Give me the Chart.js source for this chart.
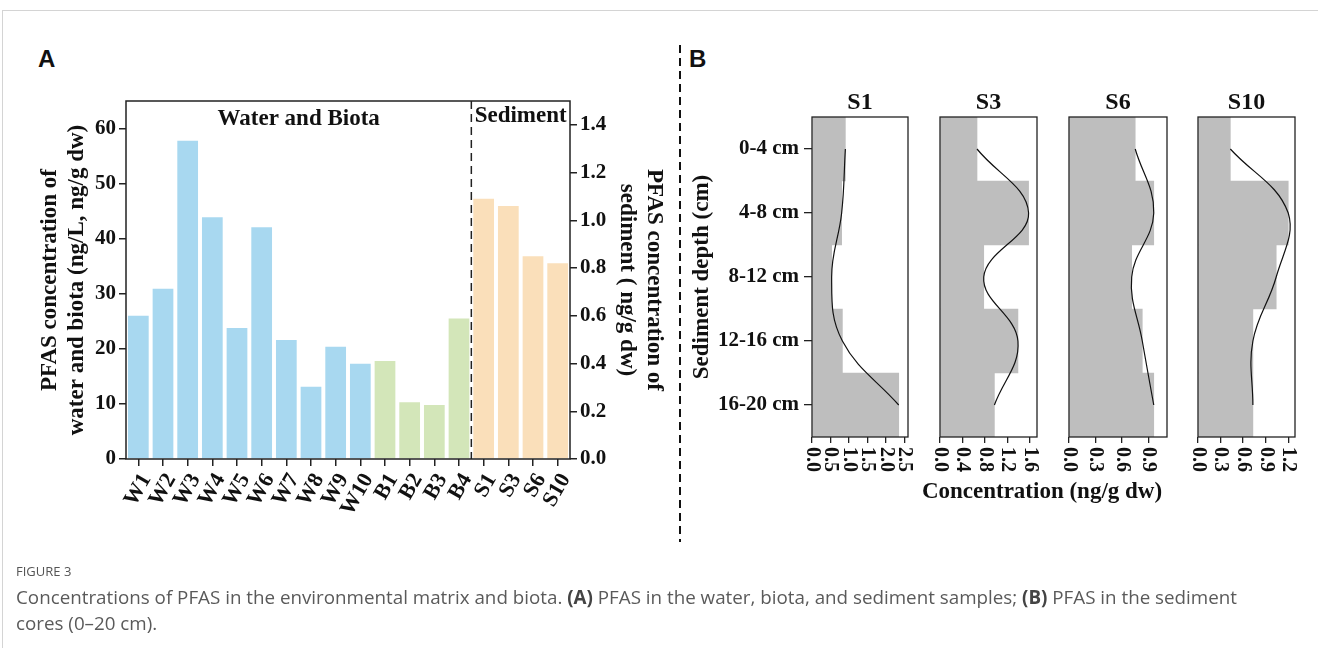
<!DOCTYPE html>
<html>
<head>
<meta charset="utf-8">
<script src="https://cdn.jsdelivr.net/npm/chart.js@4/dist/chart.umd.min.js"></script>
<style>
  html, body { margin: 0; padding: 0; background: #fff; }
  body { width: 1318px; height: 648px; position: relative; overflow: hidden; }
  canvas { position: absolute; left: 0; top: 0; }
  .frame-box { position: absolute; left: 2px; top: 10px; width: 1316px; height: 640px;
    border-top: 1px solid #d4d4d4; border-left: 1px solid #d4d4d4; }
  .panel { position: absolute; font: bold 24px "Liberation Sans", Arial, sans-serif; line-height: 24px; color: #111; }
  .xtitle { position: absolute; left: 842px; width: 400px; top: 479px; text-align: center;
    font: bold 23px "Liberation Serif", "Times New Roman", serif; line-height: 23px; color: #111; }
  .fig { position: absolute; left: 16px; top: 563px; font: 13px "Open Sans", sans-serif; line-height: 16px; color: #555; }
  .caption { position: absolute; left: 16px; top: 584px; width: 1250px; font: 18.8px "Open Sans", sans-serif;
    line-height: 26px; color: #5a5a5a; }
  .caption b { color: #444; }
</style>
</head>
<body>
<div class="frame-box"></div>
<svg width="1318" height="648" style="position:absolute;left:0;top:0">
  <line x1="680" y1="45" x2="680" y2="542" stroke="#111" stroke-width="2" stroke-dasharray="8 5"/>
</svg>
<div class="panel" style="left:38px;top:47px">A</div>
<div class="panel" style="left:689px;top:47px">B</div>
<canvas id="chartA" width="1318" height="648"></canvas>
<canvas id="coreS1" width="1318" height="648"></canvas>
<canvas id="coreS3" width="1318" height="648"></canvas>
<canvas id="coreS6" width="1318" height="648"></canvas>
<canvas id="coreS10" width="1318" height="648"></canvas>
<div class="xtitle">Concentration (ng/g dw)</div>
<div class="fig">FIGURE 3</div>
<div class="caption">Concentrations of PFAS in the environmental matrix and biota. <b>(A)</b> PFAS in the water, biota, and sediment samples; <b>(B)</b> PFAS in the sediment cores (0–20 cm).</div>

<script>
// panel A data
const sampleLabels = ["W1", "W2", "W3", "W4", "W5", "W6", "W7", "W8", "W9", "W10", "B1", "B2", "B3", "B4", "S1", "S3", "S6", "S10"];
const waterBiotaValues = [26.0, 30.9, 57.8, 43.9, 23.8, 42.1, 21.6, 13.1, 20.4, 17.3, 17.8, 10.3, 9.8, 25.5, null, null, null, null];
const sedimentValues = [null, null, null, null, null, null, null, null, null, null, null, null, null, null, 1.09, 1.06, 0.85, 0.82];
const groupNames = ["Water and Biota", "Sediment"];

// panel B data (sediment cores)
const depthLabels = ["0-4 cm", "4-8 cm", "8-12 cm", "12-16 cm", "16-20 cm"];
const coreS1 = [0.90, 0.80, 0.53, 0.82, 2.34];
const coreS3 = [0.66, 1.58, 0.78, 1.39, 0.97];
const coreS6 = [0.75, 0.96, 0.71, 0.83, 0.96];
const coreS10 = [0.43, 1.20, 1.04, 0.73, 0.73];

const serif = '"Liberation Serif", "Times New Roman", serif';
const ink = "#111";
const lineInk = "#222";

const colorFor = (label) => {
	if (label[0] === "W") return "#A8D8F0";
	if (label[0] === "B") return "#D3E6B9";
	return "#FADFBA";
};

const framePlugin = {
	id: "frame",
	afterDatasetsDraw(chart, args, opts) {
		const { ctx, chartArea: a } = chart;
		ctx.save();
		ctx.strokeStyle = lineInk;
		ctx.lineWidth = opts.lineWidth || 1.5;
		ctx.strokeRect(a.left, a.top, a.right - a.left, a.bottom - a.top);
		ctx.restore();
	},
};

const groupPlugin = {
	id: "groups",
	afterDatasetsDraw(chart) {
		const { ctx, chartArea: a, scales } = chart;
		const x = scales.x;
		const firstSed = sedimentValues.findIndex((v) => v !== null);
		const splitX = (x.getPixelForValue(firstSed - 1) + x.getPixelForValue(firstSed)) / 2;
		ctx.save();
		ctx.strokeStyle = lineInk;
		ctx.lineWidth = 1.5;
		ctx.setLineDash([8, 5]);
		ctx.beginPath();
		ctx.moveTo(splitX, a.top);
		ctx.lineTo(splitX, a.bottom);
		ctx.stroke();
		ctx.setLineDash([]);
		ctx.fillStyle = ink;
		ctx.font = "bold 23px " + serif;
		ctx.textAlign = "center";
		ctx.fillText(groupNames[0], (a.left + splitX) / 2, a.top + 24);
		ctx.fillText(groupNames[1], (splitX + a.right) / 2, a.top + 21);
		ctx.restore();
	},
};

// tick labels of the core panels read top-to-bottom
const verticalTicksPlugin = {
	id: "verticalTicks",
	afterDraw(chart) {
		const { ctx } = chart;
		const x = chart.scales.x;
		ctx.save();
		ctx.font = "bold 20px " + serif;
		ctx.fillStyle = ink;
		ctx.textAlign = "left";
		ctx.textBaseline = "middle";
		x.ticks.forEach((t) => {
			ctx.save();
			ctx.translate(x.getPixelForValue(t.value), x.top + 10);
			ctx.rotate(Math.PI / 2);
			ctx.fillText(t.value.toFixed(1), 0, 0);
			ctx.restore();
		});
		ctx.restore();
	},
};

const coreTitlePlugin = {
	id: "coreTitle",
	afterDraw(chart, args, opts) {
		const { ctx, chartArea: a } = chart;
		ctx.save();
		ctx.font = "bold 24px " + serif;
		ctx.fillStyle = ink;
		ctx.textAlign = "center";
		ctx.fillText(opts.text, (a.left + a.right) / 2, a.top - 8);
		ctx.restore();
	},
};

new Chart(document.getElementById("chartA"), {
	type: "bar",
	data: {
		labels: sampleLabels,
		datasets: [
			{
				data: waterBiotaValues,
				backgroundColor: sampleLabels.map(colorFor),
				yAxisID: "y",
				grouped: false,
				barPercentage: 0.84,
				categoryPercentage: 1,
			},
			{
				data: sedimentValues,
				backgroundColor: sampleLabels.map(colorFor),
				yAxisID: "y1",
				grouped: false,
				barPercentage: 0.84,
				categoryPercentage: 1,
			},
		],
	},
	options: {
		responsive: false,
		animation: false,
		layout: { padding: { left: 30, top: 101, right: 646, bottom: 109 } },
		plugins: {
			legend: { display: false },
			tooltip: { enabled: false },
			frame: { lineWidth: 1.5 },
		},
		scales: {
			x: {
				grid: { drawOnChartArea: false, offset: false, tickLength: 7, color: lineInk, lineWidth: 1.5 },
				border: { display: false },
				ticks: {
					color: ink,
					font: { family: serif, size: 22, weight: "bold" },
					minRotation: 60,
					maxRotation: 60,
					padding: 3,
					labelOffset: 8,
					autoSkip: false,
				},
				afterFit: (s) => {
					s.height = 80;
				},
			},
			y: {
				position: "left",
				min: 0,
				max: 65,
				grid: { drawOnChartArea: false, tickLength: 7, color: lineInk, lineWidth: 1.5 },
				border: { display: false },
				ticks: {
					stepSize: 10,
					includeBounds: false,
					color: ink,
					padding: 3,
					font: { family: serif, size: 21, weight: "bold" },
				},
				title: {
					display: true,
					text: ["PFAS concentration of", "water and biota (ng/L, ng/g dw)"],
					color: ink,
					font: { family: serif, size: 23, weight: "bold", lineHeight: 1.2 },
					padding: { top: 6, bottom: 0 },
				},
				afterFit: (s) => {
					s.width = 96;
				},
			},
			y1: {
				position: "right",
				min: 0,
				max: 1.5,
				grid: { drawOnChartArea: false, tickLength: 7, color: lineInk, lineWidth: 1.5 },
				border: { display: false },
				ticks: {
					stepSize: 0.2,
					includeBounds: false,
					color: ink,
					padding: 3,
					font: { family: serif, size: 21, weight: "bold" },
					callback: (v) => v.toFixed(1),
				},
				title: {
					display: true,
					text: ["PFAS concentration of", "sediment ( ng/g dw)"],
					color: ink,
					font: { family: serif, size: 23, weight: "bold", lineHeight: 1.2 },
					padding: { top: 4, bottom: 0 },
				},
				afterFit: (s) => {
					s.width = 102;
				},
			},
		},
	},
	plugins: [framePlugin, groupPlugin],
});

const coreTop = 117;
const coreBottom = 437;
const depthAxisLeft = 688;

function drawCore(id, name, values, xMax, xStep, left, right, withDepthAxis) {
	new Chart(document.getElementById(id), {
		type: "bar",
		data: {
			labels: depthLabels,
			datasets: [
				{
					type: "line",
					data: values,
					borderColor: ink,
					borderWidth: 1.2,
					pointRadius: 0,
					tension: 0.4,
					fill: false,
					order: 0,
				},
				{
					data: values,
					backgroundColor: "#BEBEBE",
					barPercentage: 1,
					categoryPercentage: 1,
					order: 1,
				},
			],
		},
		options: {
			indexAxis: "y",
			responsive: false,
			animation: false,
			layout: {
				padding: {
					left: withDepthAxis ? depthAxisLeft : left,
					right: 1318 - right,
					top: coreTop,
					bottom: 648 - coreBottom - 40,
				},
			},
			plugins: {
				legend: { display: false },
				tooltip: { enabled: false },
				frame: { lineWidth: 1.3 },
				coreTitle: { text: name },
			},
			scales: {
				x: {
					min: 0,
					max: xMax,
					ticks: { stepSize: xStep, includeBounds: false, display: false },
					grid: { drawOnChartArea: false, tickLength: 6, color: lineInk, lineWidth: 1.3 },
					border: { display: false },
					afterFit: (s) => {
						s.height = 40;
					},
				},
				y: {
					display: withDepthAxis,
					grid: { drawOnChartArea: false, offset: false, tickLength: 8, color: lineInk, lineWidth: 1.3 },
					border: { display: false },
					ticks: {
						color: ink,
						padding: 5,
						font: { family: serif, size: 21, weight: "bold" },
					},
					title: {
						display: true,
						text: "Sediment depth (cm)",
						color: ink,
						font: { family: serif, size: 23, weight: "bold", lineHeight: 1.2 },
						padding: { top: 0, bottom: 0 },
					},
					afterFit: (s) => {
						s.width = withDepthAxis ? left - depthAxisLeft : 0;
					},
				},
			},
		},
		plugins: [framePlugin, verticalTicksPlugin, coreTitlePlugin],
	});
}

drawCore("coreS1", "S1", coreS1, 2.59, 0.5, 812, 908, true);
drawCore("coreS3", "S3", coreS3, 1.73, 0.4, 940, 1037, false);
drawCore("coreS6", "S6", coreS6, 1.11, 0.3, 1069, 1167, false);
drawCore("coreS10", "S10", coreS10, 1.29, 0.3, 1198, 1295, false);
</script>
</body>
</html>
